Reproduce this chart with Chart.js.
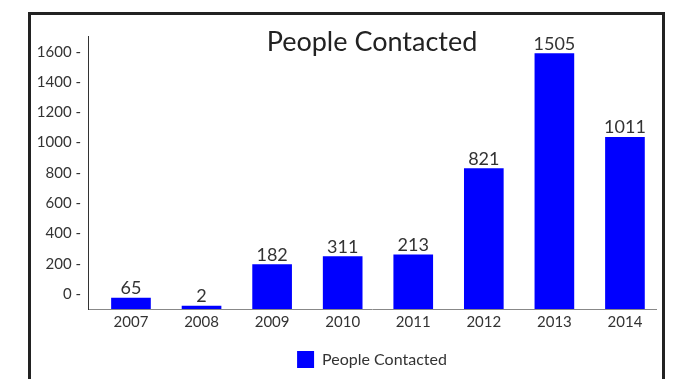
<!DOCTYPE html>
<html><head><meta charset="utf-8">
<script src="https://cdn.jsdelivr.net/npm/chart.js@4.4.1/dist/chart.umd.min.js"></script>
<style>
html,body{margin:0;padding:0;background:#fff;width:677px;height:379px;overflow:hidden;}
#frame{position:absolute;left:28px;top:12px;width:631px;height:420px;border:3px solid #222;}
#wrap{position:absolute;left:0;top:0;width:677px;height:379px;}
</style></head>
<body>
<div id="frame"></div>
<div id="wrap"><canvas id="c" width="677" height="379"></canvas></div>
<script>
const years = ['2007', '2008', '2009', '2010', '2011', '2012', '2013', '2014'];
const barValues = [65, 17, 261, 309, 319, 827, 1505, 1012];
const valueLabels = ['65', '2', '182', '311', '213', '821', '1505', '1011'];
const yTickValues = [0, 200, 400, 600, 800, 1000, 1200, 1400, 1600];
const seriesName = 'People Contacted';
const chartTitle = 'People Contacted';

Chart.defaults.font.family = 'Lato';

const valueLabelPlugin = {
  id: 'valueLabels',
  afterDatasetsDraw(chart) {
    const ctx = chart.ctx;
    const meta = chart.getDatasetMeta(0);
    ctx.save();
    ctx.font = '18px Lato';
    ctx.fillStyle = '#333';
    ctx.textAlign = 'center';
    ctx.textBaseline = 'alphabetic';
    meta.data.forEach((bar, i) => ctx.fillText(valueLabels[i], bar.x, bar.y - 4));
    ctx.restore();
  }
};

new Chart(document.getElementById('c'), {
  type: 'bar',
  data: {
    datasets: [{
      label: seriesName,
      data: barValues.map((v, i) => ({x: i, y: v})),
      backgroundColor: '#0000ff',
      borderWidth: 0,
      barThickness: 39,
      yAxisID: 'y'
    }]
  },
  options: {
    responsive: false,
    animation: false,
    layout: {padding: {top: 0, right: 21, bottom: 1, left: 0}},
    plugins: {
      title: {
        display: true,
        text: chartTitle,
        fullSize: false,
        color: '#222',
        font: {family: 'Lato', size: 27, weight: 'normal', lineHeight: 1.2},
        padding: {top: 26.3, bottom: -22.3}
      },
      legend: {
        position: 'bottom',
        fullSize: false,
        labels: {
          boxWidth: 17, boxHeight: 17, color: '#333', padding: 10,
          font: {family: 'Lato', size: 16}
        }
      },
      tooltip: {enabled: false}
    },
    scales: {
      x: {
        type: 'linear',
        offset: false,
        min: -0.609,
        max: 7.44,
        afterBuildTicks: s => { s.ticks = years.map((_, i) => ({value: i})); },
        afterFit: s => { s.height = 32; },
        grid: {display: false, drawTicks: false, offset: false},
        border: {display: true, color: '#888', width: 1},
        ticks: {
          callback: v => years[v] ?? '',
          color: '#333', font: {family: 'Lato', size: 15}, padding: 4, maxRotation: 0
        }
      },
      y: {
        type: 'linear',
        display: false,
        min: 0,
        max: 1606
      },
      yTicks: {
        type: 'linear',
        position: 'left',
        min: -99,
        max: 1701,
        afterBuildTicks: s => { s.ticks = yTickValues.map(v => ({value: v})); },
        afterFit: s => { s.width = 88; },
        grid: {display: false, drawTicks: false},
        border: {display: true, color: '#333', width: 1},
        ticks: {
          callback: v => v + ' -',
          color: '#333', font: {family: 'Lato', size: 15}, padding: 7
        }
      }
    }
  },
  plugins: [valueLabelPlugin]
});
</script>
</body></html>
